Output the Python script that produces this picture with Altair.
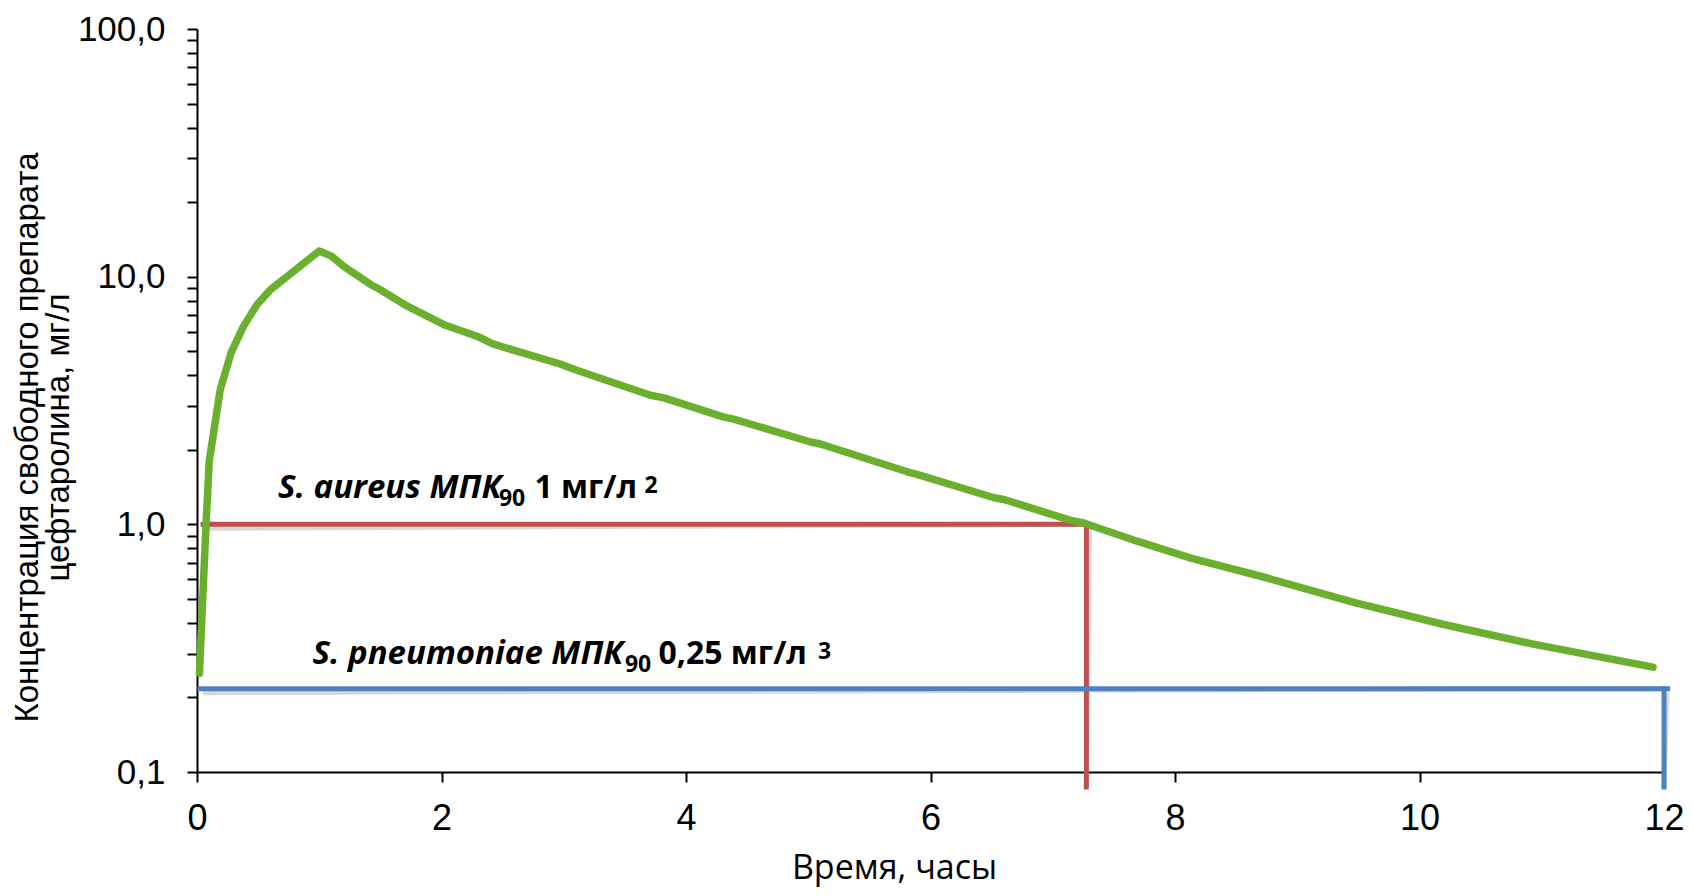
import altair as alt
import pandas as pd

# ---- data ----
time_h = [0.02, 0.046, 0.074, 0.10, 0.19, 0.28, 0.38, 0.49, 0.60, 0.80, 1.00, 1.10, 1.20,
          1.42, 1.50, 1.72, 2.02, 2.29, 2.42, 2.97, 3.13, 3.71, 3.82, 4.31, 4.39, 5.02, 5.10,
          5.81, 5.89, 6.52, 6.60, 7.14, 7.26, 7.69, 8.13, 8.74, 9.47, 10.19, 10.92, 11.91]
conc = [0.25, 0.49, 1.0, 1.8, 3.5, 4.95, 6.3, 7.7, 8.85, 10.6, 12.7, 12.1, 11.0,
        9.3, 8.85, 7.6, 6.4, 5.75, 5.35, 4.44, 4.15, 3.32, 3.24, 2.71, 2.66, 2.15, 2.11,
        1.63, 1.59, 1.28, 1.26, 1.04, 1.01, 0.855, 0.73, 0.61, 0.483, 0.395, 0.329, 0.265]

thr_color = ["#c0504d", "#c0504d", "#4f81bd", "#4f81bd"]
thr_x = [0.05, 7.275, 0.025, 12.0]
thr_x2 = [7.275, 7.275, 12.03, 12.0]
thr_y = [1.0, 1.0, 0.217, 0.217]
thr_y2 = [1.0, 0.087, 0.217, 0.087]

ann_text = ["S. aureus МПК", "90", "1 мг/л", "2",
            "S. pneumoniae МПК", "90", "0,25 мг/л", "3"]
ann_kind = ["ital", "sub", "main", "sup", "ital", "sub", "main", "sup"]
ann_x = [0.663, 2.470, 2.760, 3.660, 0.945, 3.50, 3.775, 5.080]
ann_y = [1.275, 1.181, 1.275, 1.336, 0.2732, 0.2528, 0.2732, 0.2861]

x_ticks = [0, 2, 4, 6, 8, 10, 12]
y_ticks = [0.1, 0.2, 0.3, 0.4, 0.5, 0.6, 0.7, 0.8, 0.9,
           1, 2, 3, 4, 5, 6, 7, 8, 9,
           10, 20, 30, 40, 50, 60, 70, 80, 90, 100]

curve = pd.DataFrame({"x": time_h, "y": conc})
thr = pd.DataFrame({"x": thr_x, "x2": thr_x2, "y": thr_y, "y2": thr_y2, "col": thr_color})
ann = pd.DataFrame({"text": ann_text, "kind": ann_kind, "x": ann_x, "y": ann_y})

xs = alt.Scale(domain=[0, 12], nice=False, zero=False)
ys = alt.Scale(type="log", domain=[0.1, 100], nice=False)

x_axis = alt.Axis(
    values=x_ticks, title="Время, часы", grid=False,
    labelFont="Liberation Sans", labelFontSize=36, labelColor="black",
    labelPadding=19, labelFlush=False,
    tickSize=10, tickWidth=2, tickColor="black",
    domainColor="black", domainWidth=2,
    titleFont="Open Sans", titleFontSize=34, titleFontWeight="normal", titleColor="black",
    titleX=697, titleY=106, titleBaseline="alphabetic", titleAlign="center",
)
y_axis = alt.Axis(
    values=y_ticks, grid=False,
    title=["Концентрация свободного препарата", "цефтаролина, мг/л"],
    labelExpr="indexof([0.1, 1, 10, 100], datum.value) >= 0 ? replace(format(datum.value, '.1f'), '.', ',') : ''",
    labelFont="Liberation Sans", labelFontSize=35, labelColor="black",
    labelPadding=22, labelOverlap=False, labelFlush=False,
    tickSize=10, tickWidth=2, tickColor="black",
    domainColor="black", domainWidth=2,
    titleFont="Liberation Sans", titleFontSize=33, titleFontWeight="normal", titleColor="black",
    titleAngle=270, titleX=-186, titleY=408, titleBaseline="top", titleAlign="center",
    titleLineHeight=31,
)

X = alt.X("x:Q", scale=xs, axis=x_axis)
Y = alt.Y("y:Q", scale=ys, axis=y_axis)

shadow = alt.Chart(thr).mark_rule(color="#7f7f7f", opacity=0.3, strokeWidth=5,
                                  xOffset=3, yOffset=4).encode(
    x=X, x2="x2:Q", y=Y, y2="y2:Q",
)
rules = alt.Chart(thr).mark_rule(strokeWidth=5, strokeCap="square").encode(
    x=X, x2="x2:Q", y=Y, y2="y2:Q",
    color=alt.Color("col:N", scale=None),
)
line = alt.Chart(curve).mark_line(color="#6ab02e", strokeWidth=7.5,
                                  strokeCap="round", strokeJoin="round").encode(
    x=X, y=Y,
)


def txt(kind, size, style="normal"):
    return alt.Chart(ann).transform_filter(alt.datum.kind == kind).mark_text(
        align="left", baseline="alphabetic", font="Open Sans", fontSize=size,
        fontWeight="bold", fontStyle=style, color="black",
    ).encode(x=X, y=Y, text="text:N")


chart = alt.layer(
    shadow, rules, line,
    txt("ital", 33, "italic"), txt("main", 32), txt("sub", 23), txt("sup", 23),
).properties(
    width=1467, height=743,
    padding={"left": 189, "top": 21, "right": 22, "bottom": 116},
    autosize=alt.AutoSizeParams(type="none"),
).configure_view(stroke=None)

chart.save("out.html", embed_options={"renderer": "svg", "actions": False})
